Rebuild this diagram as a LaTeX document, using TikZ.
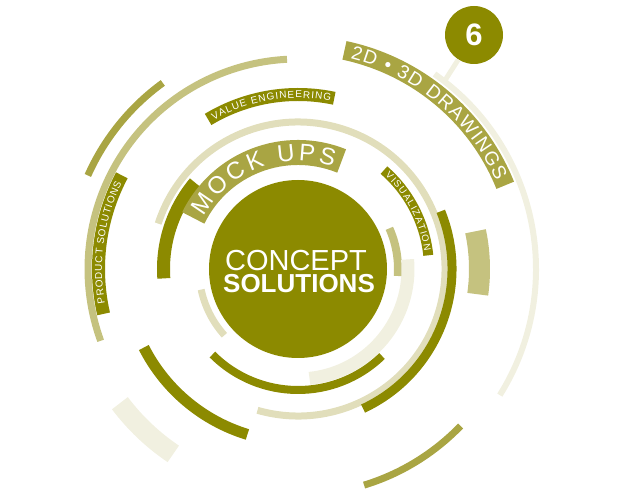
\documentclass[tikz,border=0pt]{standalone}
\usepackage{fontspec}
\setmainfont{Liberation Sans}
\usetikzlibrary{decorations.text}
\definecolor{olivedark}{RGB}{140,138,0}
\definecolor{olivemid}{RGB}{169,165,67}
\definecolor{olivelight}{RGB}{197,194,127}
\definecolor{olivepale}{RGB}{225,222,187}
\definecolor{olivefaint}{RGB}{241,240,224}

\begin{document}
\begin{tikzpicture}[x=1pt,y=1pt,
  curved/.style={decorate,decoration={text along path,text color=white,text align={fit to path},text={#1}}}]
\useasboundingbox (-298,-223) rectangle (334,269);
{
\foreach \a/\b/\r/\w/\col in {192/222/99/7/olivepale, -4/24/100/8/olivelight, 5/-84/110/13/olivefaint,
  225/314/121/8/olivedark, -106/162/147/7/olivepale, -65/22/154/9/olivedark, 140/184/134.5/13/olivedark,
  93/200/210/7/olivelight, 126/156/230/7/olivemid, 207/253/173/11/olivedark, 217/236/223/20/olivefaint,
  -73/-44/226/7/olivemid, -8/12/181.5/21/olivelight, -32/55/238/6/olivefaint}{
\draw[line width=\w pt,color=\col] (\a:\r) arc[start angle=\a,end angle=\b,radius=\r];
}
\draw[line width=25pt,olivemid] (154:116.5) arc[start angle=154,end angle=68,radius=116.5];
\draw[line width=13pt,olivedark] (121:174.5) arc[start angle=121,end angle=78,radius=174.5];
\draw[line width=10pt,olivedark] (49:131) arc[start angle=49,end angle=6,radius=131];
\draw[line width=13pt,olivedark] (193:199.5) arc[start angle=193,end angle=152,radius=199.5];
\draw[line width=19pt,olivemid] (78:223.5) arc[start angle=78,end angle=22,radius=223.5];
\path[curved={|\fontsize{24}{24}\selectfont|MOCK UPS}] (151:108) arc[start angle=151,end angle=71,radius=108];
\path[curved={|\fontsize{10}{10}\selectfont|VALUE ENGINEERING}] (119.5:171) arc[start angle=119.5,end angle=79,radius=171];
\path[curved={|\fontsize{9.5}{9.5}\selectfont|VISUALIZATION}] (47:127.6) arc[start angle=47,end angle=8,radius=127.6];
\path[curved={|\fontsize{10}{10}\selectfont|PRODUCT SOLUTIONS}] (190:196) arc[start angle=190,end angle=154,radius=196];
\path[curved={|\fontsize{19}{19}\selectfont|2D • 3D DRAWINGS}] (76:216.7) arc[start angle=76,end angle=24,radius=216.7];
\node[circle,fill=olivedark,minimum size=178pt,inner sep=0pt] (concept) at (0,0) {};
\node[anchor=base,text=white,font=\fontsize{29}{29}\selectfont] (conceptword) at (-2,-2) {CONCEPT};
\node[anchor=base,text=white,font=\fontsize{26}{26}\selectfont\bfseries] (solutionsword) at (1,-24) {SOLUTIONS};
\coordinate (stub) at (52:236);
\node[circle,fill=olivedark,minimum size=58pt,inner sep=0pt,text=white,font=\fontsize{31}{31}\selectfont\bfseries] (six) at (176,234) {6};
\draw[line width=5pt,olivefaint] (stub) -- (six);
}
\end{tikzpicture}
\end{document}
